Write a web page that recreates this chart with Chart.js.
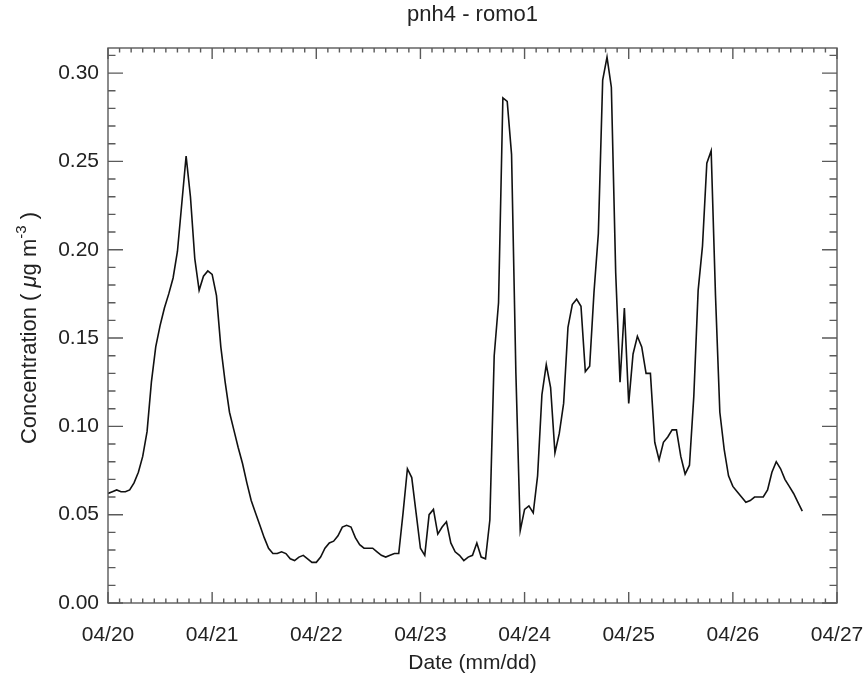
<!DOCTYPE html>
<html>
<head>
<meta charset="utf-8">
<title>pnh4 - romo1</title>
<script src="https://cdn.jsdelivr.net/npm/chart.js@4.4.0/dist/chart.umd.min.js"></script>
<style>
  html, body { margin: 0; padding: 0; background: #fff; }
  #wrap { width: 868px; height: 683px; }
</style>
</head>
<body>
<div id="wrap"><canvas id="chart" width="868" height="683"></canvas></div>
<script>
// hourly concentration, starting 04/20 00:00 (ug m-3)
const concentration = [
	0.062, 0.063, 0.064, 0.063, 0.063, 0.064, 0.068, 0.074, 0.083, 0.097,
	0.125, 0.145, 0.157, 0.167, 0.175, 0.184, 0.199, 0.226, 0.253, 0.230,
	0.195, 0.177, 0.185, 0.188, 0.186, 0.174, 0.145, 0.125, 0.108, 0.098,
	0.088, 0.079, 0.068, 0.058, 0.051, 0.044, 0.037, 0.031, 0.028, 0.028,
	0.029, 0.028, 0.025, 0.024, 0.026, 0.027, 0.025, 0.023, 0.023, 0.026,
	0.031, 0.034, 0.035, 0.038, 0.043, 0.044, 0.043, 0.037, 0.033, 0.031,
	0.031, 0.031, 0.029, 0.027, 0.026, 0.027, 0.028, 0.028, 0.051, 0.076,
	0.071, 0.051, 0.031, 0.027, 0.050, 0.053, 0.039, 0.043, 0.046, 0.034,
	0.029, 0.027, 0.024, 0.026, 0.027, 0.034, 0.026, 0.025, 0.047, 0.140,
	0.170, 0.286, 0.284, 0.254, 0.130, 0.041, 0.053, 0.055, 0.051, 0.072,
	0.118, 0.135, 0.122, 0.085, 0.096, 0.113, 0.156, 0.169, 0.172, 0.168,
	0.131, 0.134, 0.176, 0.209, 0.296, 0.309, 0.292, 0.187, 0.125, 0.167,
	0.113, 0.141, 0.151, 0.145, 0.130, 0.130, 0.091, 0.081, 0.091, 0.094,
	0.098, 0.098, 0.083, 0.073, 0.078, 0.117, 0.177, 0.202, 0.249, 0.256,
	0.174, 0.108, 0.087, 0.072, 0.066, 0.063, 0.060, 0.057, 0.058, 0.060,
	0.060, 0.060, 0.064, 0.074, 0.080, 0.076, 0.070, 0.066, 0.062, 0.057,
	0.052
];
const stepHours = 1;

const xTickHours  = [0, 24, 48, 72, 96, 120, 144, 168];
const xTickLabels = ['04/20', '04/21', '04/22', '04/23', '04/24', '04/25', '04/26', '04/27'];
const yTicks      = [0.00, 0.05, 0.10, 0.15, 0.20, 0.25, 0.30];

const family = "'Liberation Sans', Arial, Helvetica, sans-serif";
const textColor = '#222';
const frameColor = '#5a5a5a';

// box round the plot with inward ticks on all four sides
const frameTicks = {
	id: 'frameTicks',
	afterDatasetsDraw(chart){
		const {ctx, chartArea: a, scales: {x, y}} = chart;
		ctx.save();
		ctx.strokeStyle = frameColor;
		ctx.lineWidth = 1.4;
		ctx.strokeRect(a.left, a.top, a.right - a.left, a.bottom - a.top);
		ctx.beginPath();
		// 9 minor intervals per day
		for (let i = 0; i <= 63; i++) {
			const px = x.getPixelForValue(i * 24 / 9);
			const len = i % 9 === 0 ? 11 : 4.5;
			ctx.moveTo(px, a.bottom); ctx.lineTo(px, a.bottom - len);
			ctx.moveTo(px, a.top); ctx.lineTo(px, a.top + len);
		}
		// minor every 0.01
		for (let i = 0; i <= 31; i++) {
			const py = y.getPixelForValue(i / 100);
			const len = i % 5 === 0 ? 15 : 7.5;
			ctx.moveTo(a.left, py); ctx.lineTo(a.left + len, py);
			ctx.moveTo(a.right, py); ctx.lineTo(a.right - len, py);
		}
		ctx.stroke();
		ctx.restore();
	}
};

// y title with italic mu and superscript
const yTitle = {
	id: 'yTitle',
	afterDraw(chart){
		const {ctx, chartArea: a} = chart;
		const size = 22;
		const parts = [
			{t: 'Concentration ( ', f: `${size}px ${family}`, dy: 0},
			{t: '\u03bc', f: `italic ${size}px ${family}`, dy: 0},
			{t: 'g m', f: `${size}px ${family}`, dy: 0},
			{t: '-3', f: `${Math.round(size * 0.66)}px ${family}`, dy: -size * 0.38},
			{t: ' )', f: `${size}px ${family}`, dy: 0}
		];
		ctx.save();
		let total = 0;
		parts.forEach(p => { ctx.font = p.f; p.w = ctx.measureText(p.t).width; total += p.w; });
		ctx.translate(30, 328);
		ctx.rotate(-Math.PI / 2);
		ctx.fillStyle = textColor;
		ctx.textBaseline = 'middle';
		ctx.textAlign = 'left';
		let cx = -total / 2;
		parts.forEach(p => {
			ctx.font = p.f;
			ctx.fillText(p.t, cx, p.dy);
			cx += p.w;
		});
		ctx.restore();
	}
};

const ctx = document.getElementById('chart');
const myChart = new Chart(ctx, {
	type: 'line',
	data: {
		labels: concentration.map((v, i) => i * stepHours),
		datasets: [{
			label: 'pnh4',
			data: concentration,
			borderColor: '#111',
			borderWidth: 1.6,
			pointRadius: 0,
			tension: 0,
			fill: false
		}]
	},
	options: {
		responsive: false,
		animation: false,
		devicePixelRatio: 1,
		layout: { padding: 0 },
		plugins: {
			legend: { display: false },
			tooltip: { enabled: false },
			title: {
				display: true,
				text: 'pnh4 - romo1',
				fullSize: false,
				color: textColor,
				font: { family: family, size: 22, weight: 'normal' },
				padding: { top: 2, bottom: 19.6 }
			}
		},
		scales: {
			x: {
				type: 'linear',
				min: 0,
				max: 168,
				grid: { display: false },
				border: { display: false },
				afterBuildTicks: (scale) => { scale.ticks = xTickHours.map(v => ({value: v})); },
				afterFit: (scale) => {
					scale.height = 80;
					scale.paddingLeft = 0;
					scale.paddingRight = 31;
				},
				ticks: {
					autoSkip: false,
					maxRotation: 0,
					padding: 12,
					color: textColor,
					font: { family: family, size: 21 },
					callback: (value) => xTickLabels[xTickHours.indexOf(value)]
				},
				title: {
					display: true,
					text: 'Date (mm/dd)',
					color: textColor,
					font: { family: family, size: 21 },
					padding: { top: 0, bottom: 7 }
				}
			},
			y: {
				type: 'linear',
				min: 0,
				max: 0.3142,
				grid: { display: false },
				border: { display: false },
				afterBuildTicks: (scale) => { scale.ticks = yTicks.map(v => ({value: v})); },
				afterFit: (scale) => { scale.width = 108; },
				ticks: {
					padding: 1,
					color: textColor,
					font: { family: family, size: 21 },
					callback: (value) => value.toFixed(2)
				}
			}
		}
	},
	plugins: [frameTicks, yTitle]
});
</script>
</body>
</html>
